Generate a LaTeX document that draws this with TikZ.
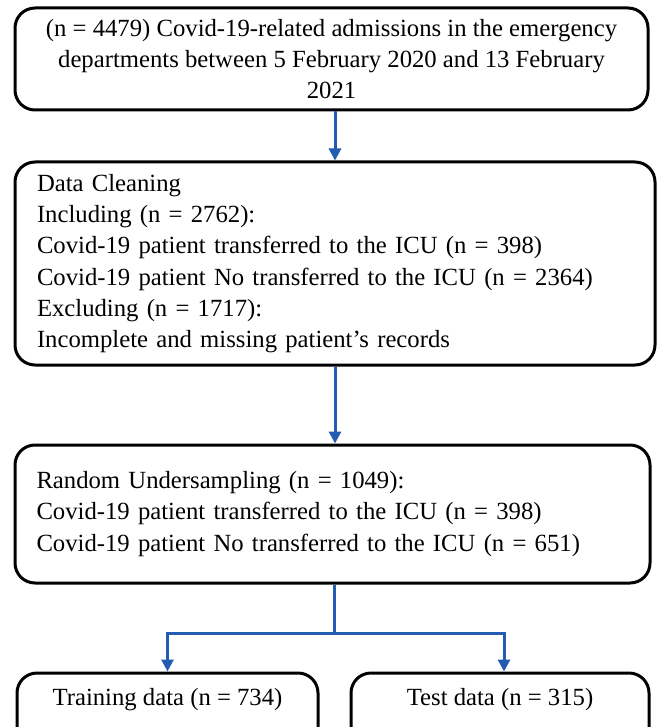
\documentclass[tikz,border=0pt]{standalone}
\usepackage{fontspec}
\setmainfont{Liberation Serif}
\usetikzlibrary{arrows.meta}
\definecolor{flowblue}{RGB}{36,92,178}
\begin{document}
\begin{tikzpicture}[x=1pt,y=-1pt,
  txt/.style={font=\fontsize{24.7}{31.2}\selectfont},
  box/.style={draw=black, line width=3pt, rounded corners=20pt, fill=white, txt},
  arr/.style={draw=flowblue, line width=3pt,
              -{Triangle[width=12pt,length=12pt]}},
  lnk/.style={draw=flowblue, line width=3pt}]
\useasboundingbox (0,0) rectangle (659,727);
\begin{scope}
\clip (0,0) rectangle (659,727);
% top box
\node[box, minimum width=633pt, minimum height=102pt, align=center, inner ysep=2pt]
  (top) at (331.5,59)
  {(n = 4479) Covid-19-related admissions in the emergency\\
   departments between 5 February 2020 and 13 February\\
   2021};
% data cleaning box
\node[box, minimum width=640pt, minimum height=203pt, text width=596pt, align=left]
  (clean) at (335,263.5)
  {Data Cleaning\\
   Including (n = 2762):\\
   Covid-19 patient transferred to the ICU (n = 398)\\
   Covid-19 patient No transferred to the ICU (n = 2364)\\
   Excluding (n = 1717):\\
   Incomplete and missing patient’s records};
% undersampling box
\node[box, minimum width=635pt, minimum height=138pt, text width=592pt, align=left]
  (under) at (332.5,514)
  {Random Undersampling (n = 1049):\\
   Covid-19 patient transferred to the ICU (n = 398)\\
   Covid-19 patient No transferred to the ICU (n = 651)};
% split boxes (run past the lower edge)
\node[box, minimum width=301pt, minimum height=90pt] (train) at (167.5,718) {};
\node[box, minimum width=298pt, minimum height=90pt] (test) at (500,718) {};
\node[txt, anchor=base] (traintxt) at ([yshift=-34pt]train.north) {Training data (n = 734)};
\node[txt, anchor=base] (testtxt) at ([yshift=-34pt]test.north) {Test data (n = 315)};
\end{scope}
% connectors
\draw[arr] (clean.north |- top.south) -- (clean.north);
\draw[arr] (clean.south) -- (clean.south |- under.north);
\coordinate (forktop) at (334,0 |- under.south);
\coordinate (fork) at ([yshift=-49pt]forktop);
\draw[lnk] (forktop) -- (fork);
\draw[arr] (fork) -| (train.north);
\draw[arr] (fork) -| ([xshift=4pt]test.north);
\end{tikzpicture}
\end{document}
